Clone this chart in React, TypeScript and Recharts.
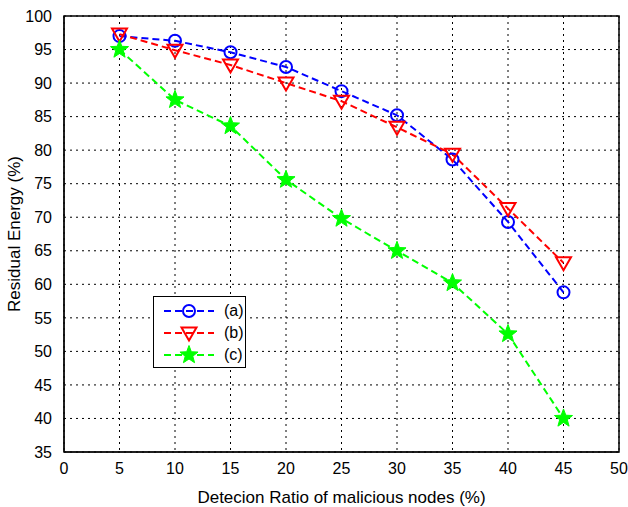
import React from 'react';
import {
  LineChart,
  Line,
  XAxis,
  YAxis,
  CartesianGrid,
  ReferenceArea
} from 'recharts';

const ratios = [5, 10, 15, 20, 25, 30, 35, 40, 45];
const seriesA = [97.0, 96.3, 94.6, 92.4, 88.8, 85.2, 78.6, 69.3, 58.8];
const seriesB = [97.3, 94.9, 92.7, 90.0, 87.3, 83.4, 79.4, 71.3, 63.2];
const seriesC = [95.0, 87.5, 83.6, 75.6, 69.8, 65.0, 60.2, 52.6, 40.0];
const xTicks = [0, 5, 10, 15, 20, 25, 30, 35, 40, 45, 50];
const yTicks = [35, 40, 45, 50, 55, 60, 65, 70, 75, 80, 85, 90, 95, 100];

const data = ratios.map((r, i) => ({ ratio: r, a: seriesA[i], b: seriesB[i], c: seriesC[i] }));

const font = '"Liberation Sans", Arial, sans-serif';

// marker shapes drawn around (cx, cy)
const Circle = ({ cx, cy }: any) => (
  <circle cx={cx} cy={cy} r={6} fill="none" stroke="#0000ff" strokeWidth={2} />
);

const TriDown = ({ cx, cy }: any) => (
  <path
    d={`M${cx - 7.5},${cy - 5.5} L${cx + 7.5},${cy - 5.5} L${cx},${cy + 7.5} Z`}
    fill="none"
    stroke="#ff0000"
    strokeWidth={2}
  />
);

const starPath = (cx: number, cy: number, R: number, r: number) => {
  let d = '';
  for (let i = 0; i < 10; i++) {
    const ang = -Math.PI / 2 + (i * Math.PI) / 5;
    const rad = i % 2 === 0 ? R : r;
    d += (i === 0 ? 'M' : 'L') + (cx + rad * Math.cos(ang)).toFixed(2) + ',' + (cy + rad * Math.sin(ang)).toFixed(2);
  }
  return d + 'Z';
};

const Star = ({ cx, cy }: any) => (
  <path d={starPath(cx, cy, 9.5, 4)} fill="#00ff00" stroke="#00ff00" strokeWidth={1} />
);

const legendItems = [
  { name: '(a)', color: '#0000ff', Marker: Circle },
  { name: '(b)', color: '#ff0000', Marker: TriDown },
  { name: '(c)', color: '#00ff00', Marker: Star }
];

const LegendBox = () => (
  <div
    style={{
      position: 'absolute',
      left: 153,
      top: 296,
      width: 93,
      height: 72,
      border: '1px solid #000',
      background: '#fff',
      boxSizing: 'border-box',
      fontFamily: font,
      fontSize: 16
    }}
  >
    {legendItems.map((item, i) => (
      <div key={i} style={{ display: 'flex', alignItems: 'center', height: 22, marginTop: i === 0 ? 3 : 0 }}>
        <svg width={56} height={22} style={{ marginLeft: 8 }}>
          <line x1={2} y1={11} x2={52} y2={11} stroke={item.color} strokeWidth={2} strokeDasharray="7 4" />
          <item.Marker cx={27} cy={11} />
        </svg>
        <span style={{ marginLeft: 6, color: '#000' }}>{item.name}</span>
      </div>
    ))}
  </div>
);

const App = () => {
  return (
    <div style={{ position: 'absolute', left: 0, top: 0, width: 628, height: 507, background: '#fff' }}>
      <LineChart
        width={628}
        height={507}
        data={data}
        margin={{ top: 16, right: 9, left: 0, bottom: 0 }}
        style={{ fontFamily: font }}
      >
        <CartesianGrid stroke="#000" strokeDasharray="2 4" strokeWidth={1} />
        <XAxis
          dataKey="ratio"
          type="number"
          domain={[0, 50]}
          ticks={xTicks}
          allowDataOverflow
          stroke="#000"
          tickLine={false}
          tick={{ fill: '#000', fontSize: 16 }}
          tickMargin={5}
          height={55}
          label={{ value: 'Detecion Ratio of malicious nodes (%)', position: 'insideBottom', offset: 4, fill: '#000', fontSize: 17 }}
        />
        <YAxis
          type="number"
          domain={[35, 100]}
          ticks={yTicks}
          allowDataOverflow
          stroke="#000"
          tickLine={false}
          tick={{ fill: '#000', fontSize: 16 }}
          tickMargin={6}
          width={64}
          label={{ value: 'Residual Energy (%)', angle: -90, position: 'insideLeft', offset: 14, fill: '#000', fontSize: 17, style: { textAnchor: 'middle' } }}
        />
        <ReferenceArea x1={0} x2={50} y1={35} y2={100} fill="none" stroke="#000" strokeWidth={1.5} ifOverflow="visible" />
        <Line
          dataKey="a"
          stroke="#0000ff"
          strokeWidth={2}
          strokeDasharray="7 4"
          dot={(p: any) => <Circle key={'a' + p.index} cx={p.cx} cy={p.cy} />}
          isAnimationActive={false}
        />
        <Line
          dataKey="b"
          stroke="#ff0000"
          strokeWidth={2}
          strokeDasharray="7 4"
          dot={(p: any) => <TriDown key={'b' + p.index} cx={p.cx} cy={p.cy} />}
          isAnimationActive={false}
        />
        <Line
          dataKey="c"
          stroke="#00ff00"
          strokeWidth={2}
          strokeDasharray="7 4"
          dot={(p: any) => <Star key={'c' + p.index} cx={p.cx} cy={p.cy} />}
          isAnimationActive={false}
        />
      </LineChart>
      <LegendBox />
    </div>
  );
};

export default App;
